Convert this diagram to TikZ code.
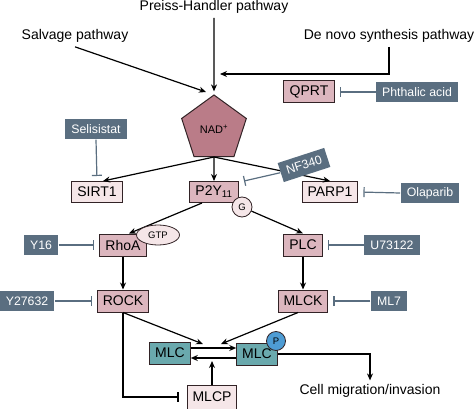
\documentclass[tikz,border=0pt]{standalone}
\usepackage{fontspec}
\setmainfont{Liberation Sans}
\usetikzlibrary{shapes.geometric,arrows.meta}
\definecolor{slate}{RGB}{90,110,128}
\definecolor{mauve}{RGB}{220,182,190}
\definecolor{palepink}{RGB}{245,230,232}
\definecolor{nadpink}{RGB}{186,124,136}
\definecolor{mlcteal}{RGB}{106,169,173}
\definecolor{pblue}{RGB}{78,156,212}
\definecolor{boxline}{RGB}{50,35,38}
\begin{document}
\begin{tikzpicture}[x=1pt, y=-1pt, ->, >={Stealth[length=7pt,width=6pt]}, line width=1.2pt,
  lbl/.style={font=\fontsize{14}{16}\selectfont, anchor=base},
  pinkbox/.style={draw=boxline, fill=mauve, line width=1pt, minimum height=22pt, inner xsep=5.5pt, inner ysep=2pt, font=\fontsize{14}{16}\selectfont},
  palebox/.style={pinkbox, fill=palepink},
  tealbox/.style={pinkbox, fill=mlcteal},
  drug/.style={fill=slate, text=white, minimum height=20pt, inner xsep=6pt, inner ysep=2pt, font=\fontsize{12.3}{14}\selectfont},
  inhibit/.style={draw=slate, -{Bar[width=10pt]}, shorten >=5pt},
  tag/.style={draw=boxline, fill=palepink, line width=0.8pt, inner sep=0pt, font=\fontsize{9.5}{11}\selectfont}]
  \useasboundingbox (0,0) rectangle (474,409);

  % sources of NAD+
  \node[lbl] (preiss) at (214,11) {Preiss-Handler pathway};
  \node[lbl] (salvage) at (75,40) {Salvage pathway};
  \node[lbl] (denovo) at (389,40) {De novo synthesis pathway};
  \node[regular polygon, regular polygon sides=5, minimum size=68pt, inner sep=0pt, draw=boxline, fill=nadpink, line width=1pt, font=\fontsize{11}{13}\selectfont] (nad) at (214,129) {NAD\textsuperscript{+}};
  \coordinate (salvtip) at (206,92);
  \coordinate (dntip) at (220,74);

  \node[pinkbox, minimum width=51pt] (qprt) at (309,92) {QPRT};
  \node[drug] (phthalic) at (417,92) {Phthalic acid};

  % NAD+ targets
  \node[drug] (selisistat) at (96,129) {Selisistat};
  \node[palebox, minimum height=21pt] (sirt) at (97,192) {SIRT1};
  \node[pinkbox, minimum height=21pt, minimum width=48pt] (p2y) at (214,192) {P2Y\textsubscript{11}};
  \node[palebox, minimum height=21pt] (parp) at (330,192) {PARP1};
  \node[drug] (olaparib) at (430,193) {Olaparib};
  \node[tag, circle, minimum size=20pt] (g) at (242,207) {G};

  % two branches
  \node[pinkbox] (rhoa) at (123,245) {RhoA};
  \node[drug] (y16) at (41,245) {Y16};
  \node[pinkbox] (plc) at (303,245) {PLC};
  \node[drug] (u731) at (392,245) {U73122};
  \node[pinkbox] (rock) at (123,301) {ROCK};
  \node[drug] (y276) at (27,301) {Y27632};
  \node[pinkbox] (mlck) at (303,301) {MLCK};
  \node[drug] (ml7) at (389,301) {ML7};

  % MLC
  \node[tealbox] (mlc1) at (170,353) {MLC};
  \node[tealbox] (mlc2) at (257,354) {MLC};
  \node[palebox, minimum height=24pt] (mlcp) at (212,397) {MLCP};
  \node[lbl] (cell) at (370,394.5) {Cell migration/invasion};
  \coordinate (rocktip) at (203,344);
  \coordinate (mlcktip) at (221,344);
  \coordinate (mlcptip) at (212,361);
  \coordinate (nftip) at (244,181);

  \draw (preiss.south) -- (nad.north) [shorten >=3pt];
  \draw (salvage.south) -- (salvtip);
  \draw (denovo.south) |- (dntip);
  \draw[inhibit] (phthalic.west) -- (qprt.east);

  \draw (nad.south) -- ([xshift=6pt]sirt.north);
  \draw (nad.south) -- (p2y.north);
  \draw (nad.south) -- (parp.north);
  \draw[inhibit] (selisistat.south) -- (sirt.north);
  \draw[inhibit] (olaparib.west) -- (parp.east);

  \draw ([xshift=-12pt]p2y.south) -- ([xshift=6pt]rhoa.north);
  \draw (g) -- (plc.north);
  \draw[inhibit] (y16.east) -- (rhoa.west);
  \draw[inhibit] (u731.west) -- (plc.east);
  \draw (rhoa) -- (rock);
  \draw (plc) -- (mlck);
  \draw[inhibit] (y276.east) -- (rock.west);
  \draw[inhibit] (ml7.west) -- (mlck.east);

  \draw (rock.south) -- (rocktip);
  \draw ([xshift=-5pt]mlck.south) -- (mlcktip);
  \draw ([yshift=5pt]mlc1.east) -- ([yshift=6pt]mlc2.west);
  \draw ([yshift=-4pt]mlc2.west) -- ([yshift=-5pt]mlc1.east);
  \draw (mlcp.north) -- (mlcptip);
  \draw[-{Bar[width=10pt]}, shorten >=8pt] (rock.south) |- (mlcp.west);
  \draw (mlc2.east) -| (cell.north);

  \node[tag, ellipse, minimum width=43pt, minimum height=20pt] (gtp) at (158,235) {GTP};
  \node[circle, draw=boxline, fill=pblue, line width=0.8pt, minimum size=19pt, inner sep=0pt, font=\fontsize{9.5}{11}\selectfont] (p) at (276,341) {P};
  \node[drug, rotate=18] (nf) at (304,165) {NF340};
  \draw[inhibit, shorten >=0pt] (nf.west) -- (nftip);
\end{tikzpicture}
\end{document}
